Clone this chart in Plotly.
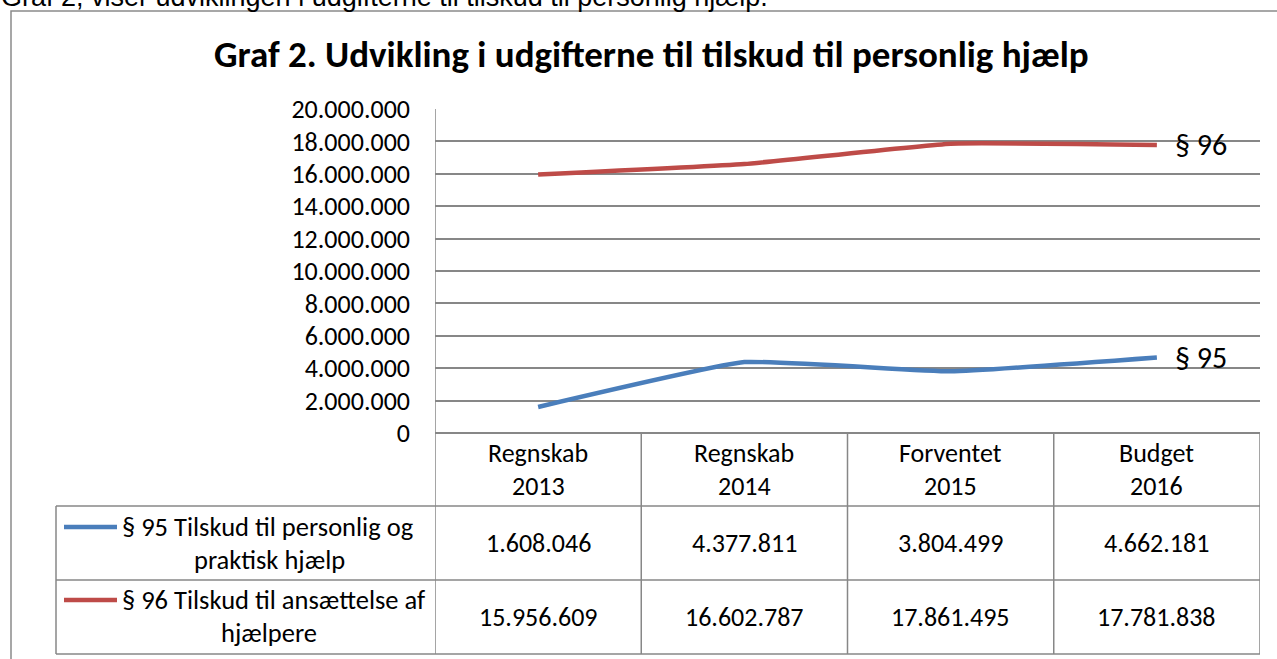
import plotly.graph_objects as go

# ---- data ----
cat_line1 = ["Regnskab", "Regnskab", "Forventet", "Budget"]
cat_line2 = ["2013", "2014", "2015", "2016"]
s95_values = [1608046, 4377811, 3804499, 4662181]
s96_values = [15956609, 16602787, 17861495, 17781838]
s95_name_lines = ["§ 95 Tilskud til personlig og", "praktisk hjælp"]
s96_name_lines = ["§ 96 Tilskud til ansættelse af", "hjælpere"]
s95_label = "§ 95"
s96_label = "§ 96"
title_text = "Graf 2. Udvikling i udgifterne til tilskud til personlig hjælp"
caption_text = "Graf 2, viser udviklingen i udgifterne til tilskud til personlig hjælp."

W, H = 1277, 659
BLUE = "#4A7EBB"
RED = "#BE4B48"
GRID = "#878787"
FONT = "Carlito, Lato, 'Open Sans', sans-serif"
FS = 26


def px(x):
    return x / W


def py(y):
    return 1 - y / H


def fmt(v):
    return f"{v:,}".replace(",", ".")


xs = list(range(len(cat_line1)))

fig = go.Figure()
fig.add_trace(go.Scatter(x=xs, y=s95_values, mode="lines",
                         line=dict(color=BLUE, width=4.5, shape="spline", smoothing=0.35),
                         showlegend=False, hoverinfo="skip"))
fig.add_trace(go.Scatter(x=xs, y=s96_values, mode="lines",
                         line=dict(color=RED, width=4.5, shape="spline", smoothing=0.35),
                         showlegend=False, hoverinfo="skip"))

shapes = []
# outer chart border
shapes.append(dict(type="rect", xref="paper", yref="paper", x0=px(11), x1=px(1300),
                   y0=py(680), y1=py(11), line=dict(color="#8a8a8a", width=1.5)))
# y-axis line extended through table
shapes.append(dict(type="line", xref="x", yref="paper", x0=-0.5, x1=-0.5,
                   y0=py(109), y1=py(654), line=dict(color=GRID, width=1.5)))
# vertical table lines
for b in [0.5, 1.5, 2.5, 3.5]:
    shapes.append(dict(type="line", xref="x", yref="paper", x0=b, x1=b,
                       y0=py(433), y1=py(654), line=dict(color=GRID, width=1.5)))
# table left edge
shapes.append(dict(type="line", xref="paper", yref="paper", x0=px(56), x1=px(56),
                   y0=py(506), y1=py(654), line=dict(color=GRID, width=1.5)))
# horizontal table lines
for yy in [506, 580, 654]:
    shapes.append(dict(type="line", xref="paper", yref="paper", x0=px(56), x1=px(1260),
                       y0=py(yy), y1=py(yy), line=dict(color=GRID, width=1.5)))
# legend keys
for yy, col in [(527, BLUE), (600, RED)]:
    shapes.append(dict(type="line", xref="paper", yref="paper", x0=px(64), x1=px(117),
                       y0=py(yy), y1=py(yy), line=dict(color=col, width=4.5)))

ann = []
ann.append(dict(text=caption_text, xref="paper", yref="paper", x=px(-1), y=py(-3),
                xanchor="left", yanchor="middle", showarrow=False,
                font=dict(family="Liberation Sans, Arial", size=27, color="#000")))
ann.append(dict(text=f"<b>{title_text}</b>", xref="paper", yref="paper", x=px(651), y=py(54),
                xanchor="center", yanchor="middle", showarrow=False,
                font=dict(family=FONT, size=37, color="#000")))
# header and values
for i in xs:
    ann.append(dict(text=cat_line1[i], xref="x", yref="paper", x=i, y=py(453),
                    xanchor="center", yanchor="middle", showarrow=False,
                    font=dict(family=FONT, size=FS, color="#000")))
    ann.append(dict(text=cat_line2[i], xref="x", yref="paper", x=i, y=py(486),
                    xanchor="center", yanchor="middle", showarrow=False,
                    font=dict(family=FONT, size=FS, color="#000")))
    ann.append(dict(text=fmt(s95_values[i]), xref="x", yref="paper", x=i, y=py(543),
                    xanchor="center", yanchor="middle", showarrow=False,
                    font=dict(family=FONT, size=FS, color="#000")))
    ann.append(dict(text=fmt(s96_values[i]), xref="x", yref="paper", x=i, y=py(617),
                    xanchor="center", yanchor="middle", showarrow=False,
                    font=dict(family=FONT, size=FS, color="#000")))
# legend text
for lines, y1, y2 in [(s95_name_lines, 527, 560), (s96_name_lines, 600, 633)]:
    ann.append(dict(text=lines[0], xref="paper", yref="paper", x=px(120), y=py(y1),
                    xanchor="left", yanchor="middle", showarrow=False,
                    font=dict(family=FONT, size=26.5, color="#000")))
    ann.append(dict(text=lines[1], xref="paper", yref="paper", x=px(269), y=py(y2),
                    xanchor="center", yanchor="middle", showarrow=False,
                    font=dict(family=FONT, size=26.5, color="#000")))
# series end labels
for lab, vals in [(s95_label, s95_values), (s96_label, s96_values)]:
    ann.append(dict(text=lab, xref="x", yref="y", x=xs[-1], y=vals[-1],
                    xanchor="left", yanchor="middle", xshift=16, showarrow=False,
                    font=dict(family=FONT, size=30, color="#000")))

fig.update_layout(
    width=W, height=H,
    margin=dict(l=0, r=0, t=0, b=0, pad=0),
    autosize=False,
    paper_bgcolor="white", plot_bgcolor="white",
    separators=",.",
    showlegend=False,
    xaxis=dict(domain=[px(435), px(1260)], range=[-0.5, 3.5], visible=False,
               fixedrange=True, automargin=False),
    yaxis=dict(domain=[py(433), py(109)], range=[0, 20000000], dtick=2000000,
               tickformat=",d", showgrid=True, gridcolor=GRID, gridwidth=1.5,
               zeroline=True, zerolinecolor=GRID, zerolinewidth=1.5,
               showline=False, ticks="", ticklabelstandoff=24, automargin=False,
               tickfont=dict(family=FONT, size=FS, color="#000"), fixedrange=True),
    shapes=shapes,
    annotations=ann,
)

fig.write_html(
    "out.html",
    config={"displayModeBar": False, "responsive": False},
    post_script="document.body.style.margin='0';document.body.style.overflow='hidden';",
)
